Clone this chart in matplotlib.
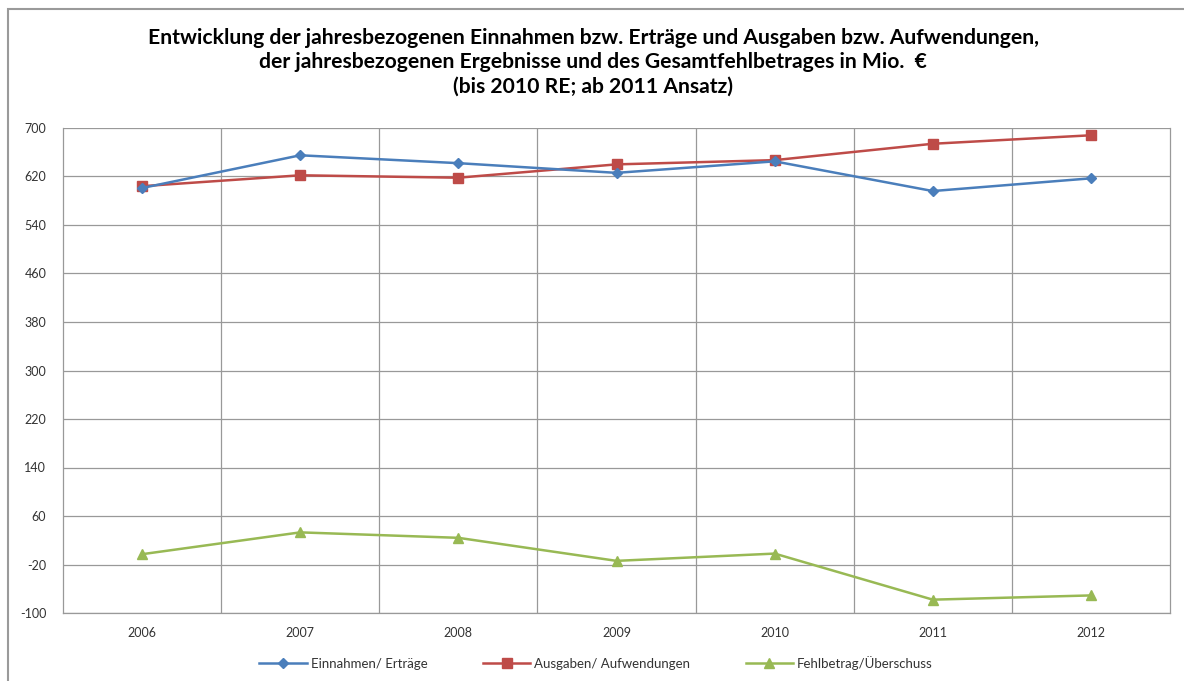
import numpy as np
import matplotlib
matplotlib.use('Agg')
import matplotlib.pyplot as plt
from matplotlib.patches import Rectangle

years = ["2006", "2007", "2008", "2009", "2010", "2011", "2012"]
einnahmen = [601, 655, 642, 626, 645, 596, 617]
ausgaben = [604, 622, 618, 640, 647, 674, 688]
fehlbetrag = [-3, 33, 24, -14, -2, -78, -71]
y_ticks = [-100, -20, 60, 140, 220, 300, 380, 460, 540, 620, 700]

plt.rcParams['font.family'] = ['Lato', 'DejaVu Sans']

fig = plt.figure(figsize=(11.84, 6.81), dpi=100)
ax = fig.add_axes([63 / 1184, 1 - 613 / 681, (1170 - 63) / 1184, (613 - 128) / 681])

# outer chart border
fig.patches.append(Rectangle((8 / 1184, -0.05), 1.05, 1 - 9 / 681 + 0.05,
                             transform=fig.transFigure, fill=False,
                             edgecolor='#9a9a9a', linewidth=1.5))

x = np.arange(len(years))
ax.plot(x, einnahmen, color='#4A7EBB', marker='D', markersize=5.5,
        linewidth=1.8, label='Einnahmen/ Erträge', zorder=4)
ax.plot(x, ausgaben, color='#BE4B48', marker='s', markersize=7.5,
        linewidth=1.8, label='Ausgaben/ Aufwendungen', zorder=3)
ax.plot(x, fehlbetrag, color='#98B954', marker='^', markersize=7.5,
        linewidth=1.8, label='Fehlbetrag/Überschuss', zorder=3)

ax.set_xlim(-0.5, len(years) - 0.5)
ax.set_ylim(-100, 700)
ax.set_yticks(y_ticks)
ax.set_yticklabels([str(v) for v in y_ticks], fontsize=9, color='#333333')
ax.set_xticks(x)
ax.set_xticklabels(years, fontsize=9, color='#333333')
ax.tick_params(axis='both', length=0, pad=10)
ax.tick_params(axis='y', pad=12)

# gridlines
for v in y_ticks:
    ax.axhline(v, color='#999999', linewidth=0.9, zorder=1)
for b in np.arange(0.5, len(years) - 0.5, 1):
    ax.axvline(b, color='#999999', linewidth=0.9, zorder=1)
for s in ax.spines.values():
    s.set_color('#999999')
    s.set_linewidth(0.9)
ax.spines['top'].set_visible(False)

title_lines = [
    "Entwicklung der jahresbezogenen Einnahmen bzw. Erträge und Ausgaben bzw. Aufwendungen,",
    "der jahresbezogenen Ergebnisse und des Gesamtfehlbetrages in Mio.  €",
    "(bis 2010 RE; ab 2011 Ansatz)",
]
for ypx, line in zip([38, 62, 87], title_lines):
    fig.text(593 / 1184, 1 - ypx / 681, line, ha='center', va='center',
             fontsize=15.2, fontweight='bold')

fig.legend(loc='center', bbox_to_anchor=(596 / 1184, 1 - 663 / 681), ncol=3,
           frameon=False, fontsize=9.5, handlelength=3.6, columnspacing=4.2,
           handletextpad=0.3, labelcolor='#333333')

fig.savefig('out.png', dpi=100)
